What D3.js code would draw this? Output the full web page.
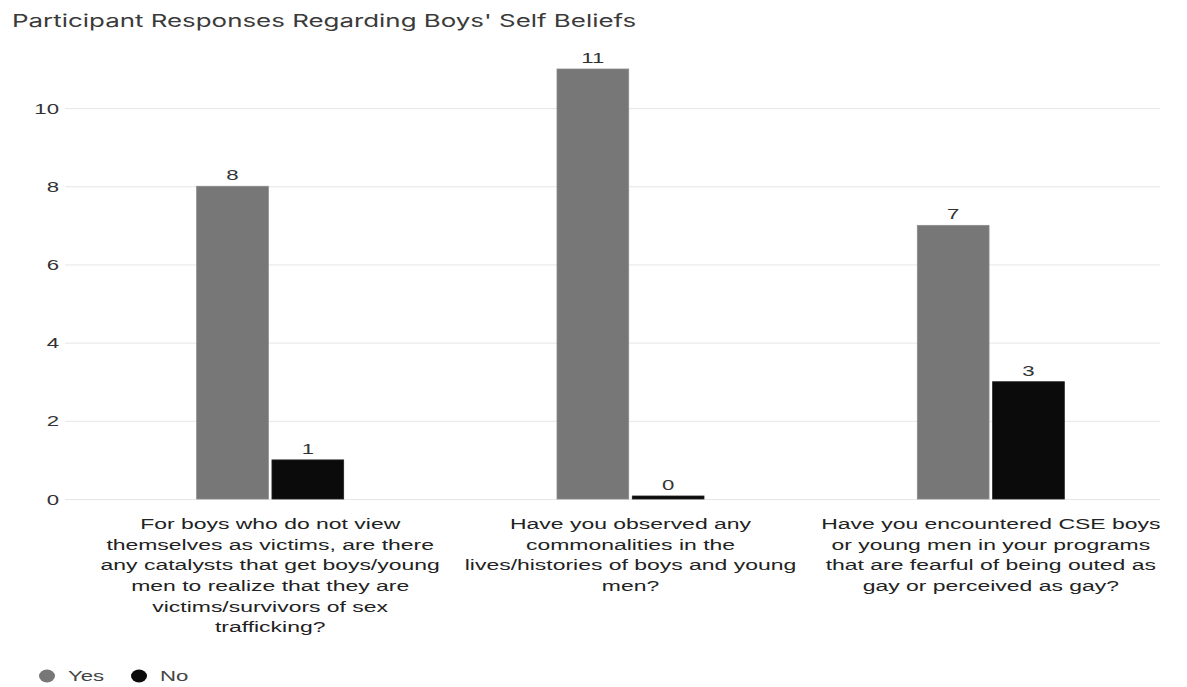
<!DOCTYPE html>
<html>
<head>
<meta charset="utf-8">
<script src="https://cdn.jsdelivr.net/npm/d3@7"></script>
<style>
  html, body { margin: 0; padding: 0; background: #fff; }
  svg { display: block; }
</style>
</head>
<body>
<svg id="chart" width="1187" height="687"></svg>
<script>
// Survey questions (x categories), wrapped into display lines
const categories = ["Q1", "Q2", "Q3"];
const categoryLines = [
  ["For boys who do not view", "themselves as victims, are there", "any catalysts that get boys/young", "men to realize that they are", "victims/survivors of sex", "trafficking?"],
  ["Have you observed any", "commonalities in the", "lives/histories of boys and young", "men?"],
  ["Have you encountered CSE boys", "or young men in your programs", "that are fearful of being outed as", "gay or perceived as gay?"]
];
const seriesNames = ["Yes", "No"];
const yesValues = [8, 11, 7];
const noValues = [1, 0, 3];
const yTicks = [0, 2, 4, 6, 8, 10];
const titleText = "Participant Responses Regarding Boys' Self Beliefs";

const colors = { Yes: "#777777", No: "#0b0b0b" };
const FONT = "'Liberation Sans', Arial, sans-serif";
const SX = 1.48;     // horizontal stretch of the text glyphs
const SX_CAT = 1.53; // category labels run slightly wider

const svg = d3.select("#chart");
const plot = { left: 65, right: 1160, top: 69, bottom: 499 };

// Title
svg.append("text")
  .attr("transform", `translate(12,27) scale(${SX},1)`)
  .attr("font-family", "Inter, 'Open Sans', sans-serif")
  .attr("font-size", 17.5)
  .attr("fill", "#3a3a3a")
  .text(titleText);

const y = d3.scaleLinear().domain([0, 11]).range([plot.bottom, plot.top]);
const x0 = d3.scaleBand().domain(categories).range([90, 1171]).paddingInner(0).paddingOuter(0);
const barW = 70, barGap = 7;
const x1 = d3.scaleBand().domain(seriesNames)
  .range([x0.bandwidth() / 2 - barW - barGap / 2, x0.bandwidth() / 2 + barW + barGap / 2])
  .paddingInner(barGap / (2 * barW + barGap));

// Gridlines and y tick labels
const yAxis = d3.axisLeft(y).tickValues(yTicks).tickSize(-(plot.right - plot.left)).tickFormat(d3.format("d"));
const gy = svg.append("g").attr("transform", `translate(${plot.left},0)`).call(yAxis);
gy.select(".domain").remove();
gy.selectAll(".tick line").attr("stroke", "#e6e6e6").attr("stroke-width", 1);
gy.selectAll(".tick text")
  .attr("x", null).attr("dy", null)
  .attr("transform", `translate(-6,5) scale(${SX},1)`)
  .attr("text-anchor", "end")
  .attr("font-family", FONT)
  .attr("font-size", 15)
  .attr("fill", "#333");

// Bars
const rows = categories.map((c, i) => ({ cat: c, Yes: yesValues[i], No: noValues[i] }));
const groups = svg.append("g").selectAll("g").data(rows).join("g")
  .attr("transform", d => `translate(${x0(d.cat)},0)`);

const minH = 3;
const barTop = d => Math.min(y(d.value), plot.bottom - minH);
groups.selectAll("rect").data(d => seriesNames.map(k => ({ key: k, value: d[k] }))).join("rect")
  .attr("x", d => x1(d.key))
  .attr("width", x1.bandwidth())
  .attr("y", barTop)
  .attr("height", d => plot.bottom - barTop(d))
  .attr("fill", d => colors[d.key])
  .attr("stroke", d => d.key === "Yes" ? "#8a8a8a" : "#222")
  .attr("stroke-width", 0.8);

// Value labels
groups.selectAll("text.val").data(d => seriesNames.map(k => ({ key: k, value: d[k] }))).join("text")
  .attr("class", "val")
  .attr("transform", d => `translate(${x1(d.key) + x1.bandwidth() / 2},${barTop(d) - 6}) scale(${SX},1)`)
  .attr("text-anchor", "middle")
  .attr("font-family", FONT)
  .attr("font-size", 15)
  .attr("fill", "#333")
  .text(d => d.value);

// Category labels
const xl = svg.append("g").selectAll("text").data(categories).join("text")
  .attr("text-anchor", "middle")
  .attr("font-family", FONT)
  .attr("font-size", 15)
  .attr("fill", "#222")
  .attr("transform", d => `translate(${x0(d) + x0.bandwidth() / 2},529) scale(${SX_CAT},1)`);
xl.selectAll("tspan").data((d, i) => categoryLines[i]).join("tspan")
  .attr("x", 0)
  .attr("dy", (d, i) => i === 0 ? 0 : 20.7)
  .text(d => d);

// Legend
const legend = svg.append("g").attr("transform", "translate(47,676)");
const legendX = [0, 92];
seriesNames.forEach((name, i) => {
  const g = legend.append("g").attr("transform", `translate(${legendX[i]},0)`);
  g.append("ellipse").attr("rx", 8).attr("ry", 6.5).attr("fill", colors[name]);
  g.append("text")
    .attr("transform", `translate(21,5) scale(${SX},1)`)
    .attr("font-family", FONT)
    .attr("font-size", 15)
    .attr("fill", "#444")
    .text(name);
});
</script>
</body>
</html>
